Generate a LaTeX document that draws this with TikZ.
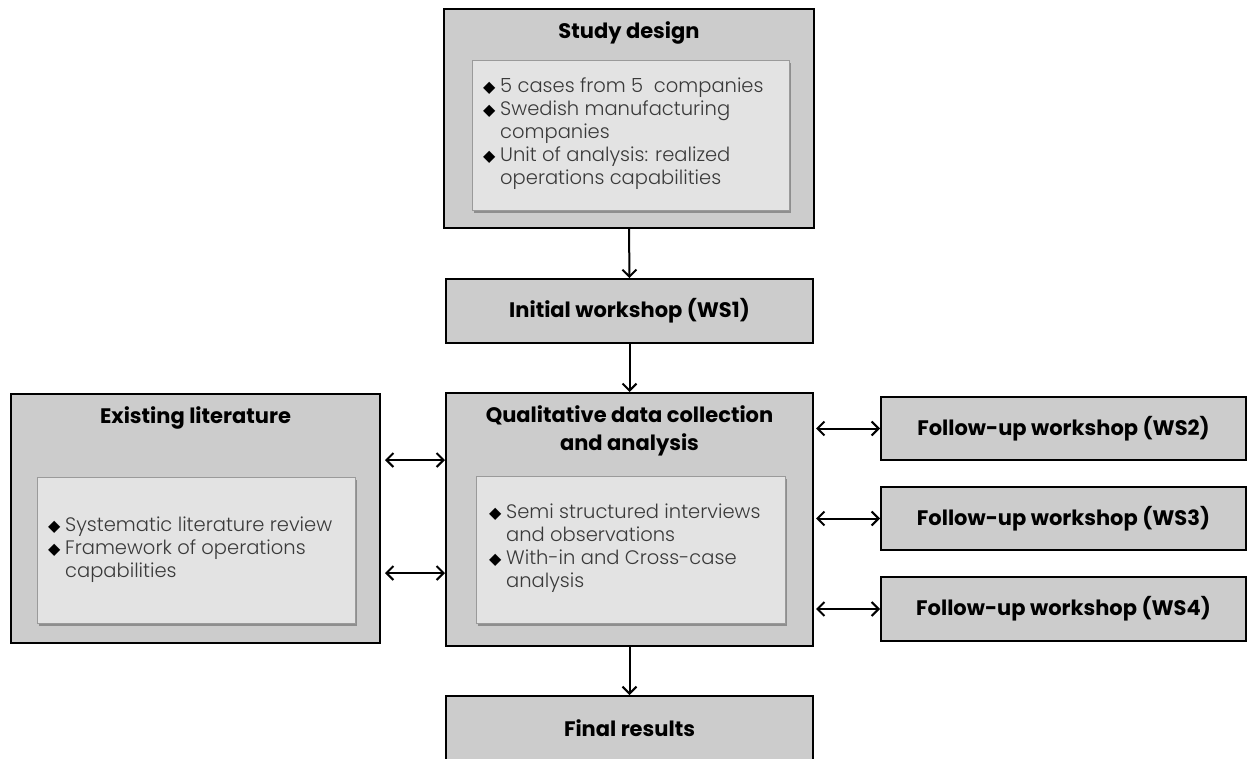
\documentclass[tikz,border=0pt]{standalone}
\usepackage{fontspec}
\setmainfont{Poppins}
\newfontfamily\lightfont{Poppins Light}
\newfontfamily\symfont{DejaVu Sans}
\usetikzlibrary{arrows.meta,shadows,calc}
\definecolor{outerfill}{HTML}{CCCCCC}
\definecolor{innerfill}{HTML}{E3E3E3}
\definecolor{innerline}{HTML}{9A9A9A}
\definecolor{bodytext}{HTML}{3A3A3A}
\newcommand{\bl}{\makebox[17pt][l]{\raisebox{0pt}{\symfont\fontsize{16}{16}\selectfont\color{black}◆}}}
\newcommand{\ind}{\hspace*{17pt}}
\begin{document}
\begin{tikzpicture}[x=1pt,y=-1pt,
  outerbox/.style={draw=black, line width=2pt, fill=outerfill, inner sep=0pt},
  innerbox/.style={draw=innerline, line width=1pt, fill=innerfill, inner sep=0pt,
    drop shadow={shadow xshift=1.5pt, shadow yshift=-2.5pt, opacity=0.3, fill=black}},
  ttl/.style={font=\fontsize{21}{28}\selectfont\bfseries, align=center, inner sep=0pt},
  body/.style={font=\lightfont\fontsize{19.5}{23}\selectfont, text=bodytext, align=left, inner sep=0pt, anchor=west},
  conn/.style={line width=2pt, -{Straight Barb[length=7pt,width=14pt]}},
  dconn/.style={line width=2pt, {Straight Barb[length=7pt,width=14pt]}-{Straight Barb[length=7pt,width=14pt]}}]
\useasboundingbox (0,0) rectangle (1247,758);
\clip (0,0) rectangle (1247,758);
% boxes
\node[outerbox, minimum width=370pt, minimum height=219pt] (design) at (629,118.5) {};
\node[innerbox, minimum width=317pt, minimum height=150pt] (designin) at (630.5,135) {};
\node[outerbox, minimum width=367pt, minimum height=64pt] (initial) at (629.5,311) {};
\node[outerbox, minimum width=367pt, minimum height=253pt] (qual) at (629.5,519.5) {};
\node[innerbox, minimum width=309pt, minimum height=147pt] (qualin) at (630.5,549.5) {};
\node[outerbox, minimum width=367pt, minimum height=94pt] (final) at (629.5,743) {};
\node[outerbox, minimum width=369pt, minimum height=249pt] (lit) at (195.5,518.5) {};
\node[innerbox, minimum width=318pt, minimum height=146pt] (litin) at (196,550) {};
\node[outerbox, minimum width=365pt, minimum height=63pt] (ws2) at (1063.5,428.5) {};
\node[outerbox, minimum width=365pt, minimum height=63pt] (ws3) at (1063.5,518.5) {};
\node[outerbox, minimum width=365pt, minimum height=64pt] (ws4) at (1063.5,609) {};
% titles
\node[ttl] (designt) at (629,33) {Study design};
\node[ttl] (initialt) at (629.5,311) {Initial workshop (WS1)};
\node[ttl] (qualt) at (629.5,431) {Qualitative data collection\\and analysis};
\node[ttl] (litt) at (195.5,418) {Existing literature};
\node[ttl] (finalt) at (629.5,728) {Final results};
\node[ttl] (ws2t) at (1063.5,429) {Follow-up workshop (WS2)};
\node[ttl] (ws3t) at (1063.5,518.5) {Follow-up workshop (WS3)};
\node[ttl] (ws4t) at (1063.5,609) {Follow-up workshop (WS4)};
% body texts
\node[body] (designb) at (483,134) {\bl 5 cases from 5\ \ companies\\ \bl Swedish manufacturing\\ \ind companies\\ \bl Unit of analysis: realized\\ \ind operations capabilities};
\node[body] (litb) at (48,550) {\bl Systematic literature review\\ \bl Framework of operations\\ \ind capabilities};
\node[body] (qualb) at (489,548) {\bl Semi structured interviews\\ \ind and observations\\ \bl With-in and Cross-case\\ \ind analysis};
% connectors
\draw[conn] (design.south) -- (initial.north);
\draw[conn] (initial.south) -- (qual.north);
\draw[conn] (qual.south) -- (final.north);
\coordinate (l1) at (385,460);
\coordinate (l2) at (385,573);
\draw[dconn] (l1) -- (l1 -| qual.west);
\draw[dconn] (l2) -- (l2 -| qual.west);
\draw[dconn] ([xshift=2pt]ws2.west -| qual.east) -- (ws2.west);
\draw[dconn] ([xshift=2pt]ws3.west -| qual.east) -- (ws3.west);
\draw[dconn] ([xshift=2pt]ws4.west -| qual.east) -- (ws4.west);
\end{tikzpicture}
\end{document}
